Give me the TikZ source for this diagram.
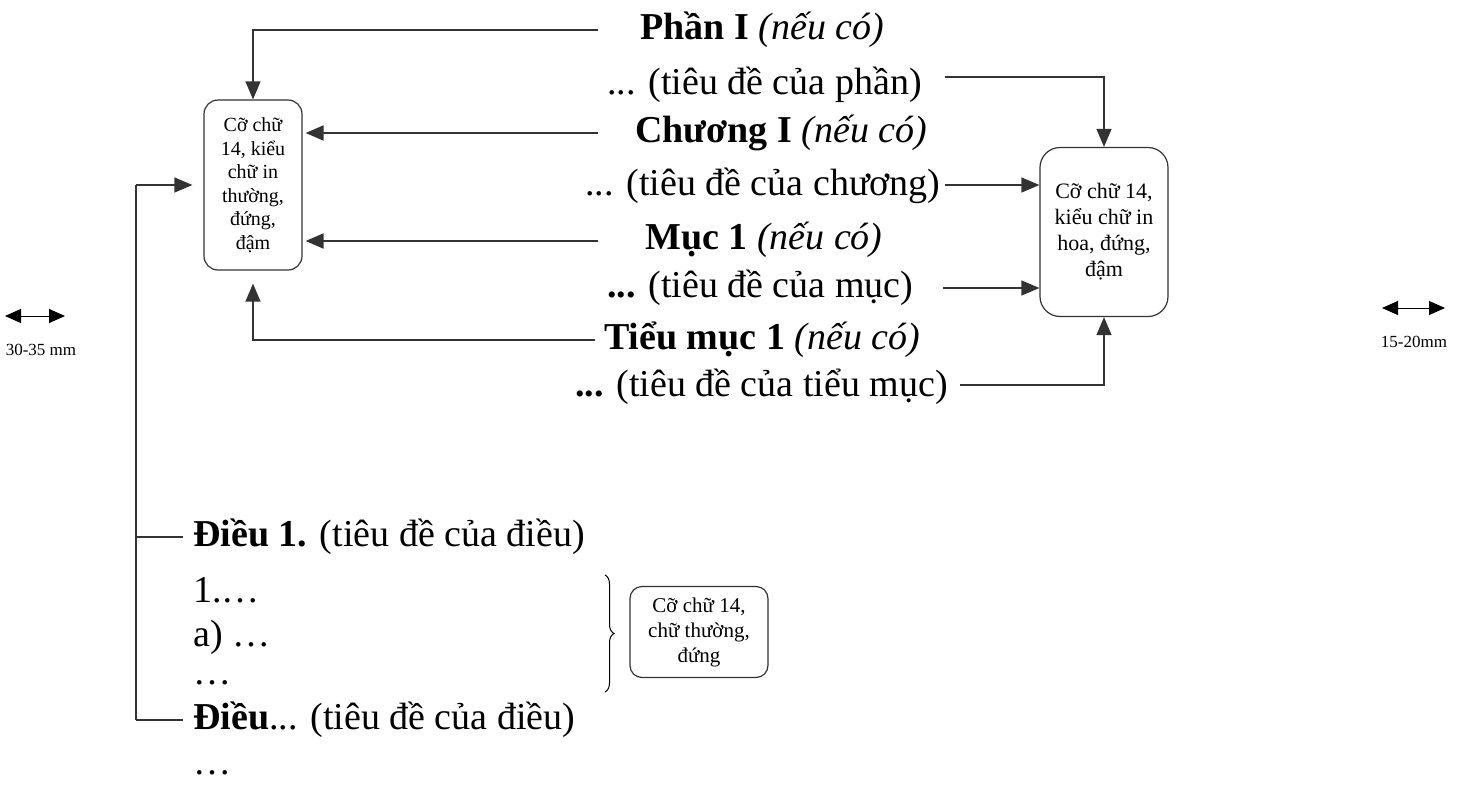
\documentclass[tikz,border=0pt]{standalone}
\usepackage{fontspec}
\setmainfont{Liberation Serif}
\usetikzlibrary{arrows.meta,decorations.pathreplacing}
\tikzset{
  big/.style={inner sep=0pt, anchor=west, font=\fontsize{38}{42}\selectfont},
  ln/.style={line width=1.3pt, draw=black!80},
  arr/.style={ln, -{Triangle[length=18pt,width=15pt]}},
  note/.style={draw=black!80, line width=1.2pt, rounded corners=14pt, align=center, inner sep=4pt},
  dim/.style={line width=1pt, {Triangle[length=16pt,width=14pt]}-{Triangle[length=16pt,width=14pt]}},
  small/.style={inner sep=0pt, font=\fontsize{17}{20}\selectfont}
}
\begin{document}
\begin{tikzpicture}[x=1pt,y=-1pt]
\useasboundingbox (0,0) rectangle (1466,795);
% boxes
\node[note, minimum width=98pt, minimum height=170pt, font=\fontsize{20}{23.5}\selectfont] (lbox) at (253,185) {Cỡ chữ\\14, kiểu\\chữ in\\thường,\\đứng,\\đậm};
\node[note, minimum width=128pt, minimum height=169pt, rounded corners=20pt, font=\fontsize{22}{26}\selectfont] (rbox) at (1104,232) {Cỡ chữ 14,\\kiểu chữ in\\hoa, đứng,\\đậm};
% headings
\node[big] (phan) at (640,30) {\textbf{Phần I} \textit{(nếu có)}};
\node[big] (tdphan) at (607,85) {... (tiêu đề của phần)};
\node[big] (chuong) at (635,133) {\textbf{Chương I} \textit{(nếu có)}};
\node[big] (tdchuong) at (585,186) {... (tiêu đề của chương)};
\node[big] (muc) at (645,240) {\textbf{Mục 1} \textit{(nếu có)}};
\node[big] (tdmuc) at (607,288) {\textbf{...} (tiêu đề của mục)};
\node[big] (tieumuc) at (604,340) {\textbf{Tiểu mục 1} \textit{(nếu có)}};
\node[big] (tdtieumuc) at (575,387) {\textbf{...} (tiêu đề của tiểu mục)};
% left connectors
\coordinate (c1) at (598,30);
\coordinate (c2) at (598,133);
\coordinate (c3) at (598,241);
\coordinate (c4) at (595,340);
\draw[arr] (c1) -| (lbox.north);
\draw[arr, line width=2pt] (c2) -- ([xshift=3pt]lbox.east |- c2);
\draw[arr, line width=2pt] (c3) -- ([xshift=3pt]lbox.east |- c3);
\draw[arr, shorten >=13pt] (c4) -| (lbox.south);
% right connectors
\coordinate (d1) at (945,77);
\coordinate (d2) at (945,185);
\coordinate (d3) at (943,288);
\coordinate (d4) at (960,385);
\draw[arr] (d1) -| (rbox.north);
\draw[arr] (d2) -- (rbox.west |- d2);
\draw[arr] (d3) -- (rbox.west |- d3);
\draw[arr] (d4) -| (rbox.south);
% bottom
\node[big] (dieu1) at (193,537) {\textbf{Điều 1.} (tiêu đề của điều)};
\node[big] (k1) at (193,590) {1.…};
\node[big] (ka) at (193,637) {a) …};
\node[big] (kd) at (193,683) {…};
\node[big] (dieun) at (193,720) {\textbf{Điều}... (tiêu đề của điều)};
\node[big] (kd2) at (193,773) {…};
\coordinate (v0) at (136,185);
\coordinate (v1) at (136,537);
\coordinate (v2) at (136,720);
\draw[arr] (v0) -- ([xshift=-11pt]lbox.west |- v0);
\draw[ln] (v0) -- (v2);
\draw[ln] (v1) -- ([xshift=-10pt]dieu1.west);
\draw[ln] (v2) -- ([xshift=-10pt]dieun.west);
\draw[line width=1pt, decorate, decoration={brace, amplitude=9pt}] (605,575) -- (605,692);
\node[note, minimum width=138pt, minimum height=91pt, rounded corners=12pt, font=\fontsize{21}{25}\selectfont] (sbox) at (699,632) {Cỡ chữ 14,\\chữ thường,\\đứng};
% dimension marks
\coordinate (a1) at (5,316);
\coordinate (a2) at (65,316);
\draw[dim] (a1) -- (a2);
\node[small] (t1) at (41,350) {30-35 mm};
\coordinate (b1) at (1382,308);
\coordinate (b2) at (1445,308);
\draw[dim] (b1) -- (b2);
\node[small] (t2) at (1414,342) {15-20mm};
\end{tikzpicture}
\end{document}
